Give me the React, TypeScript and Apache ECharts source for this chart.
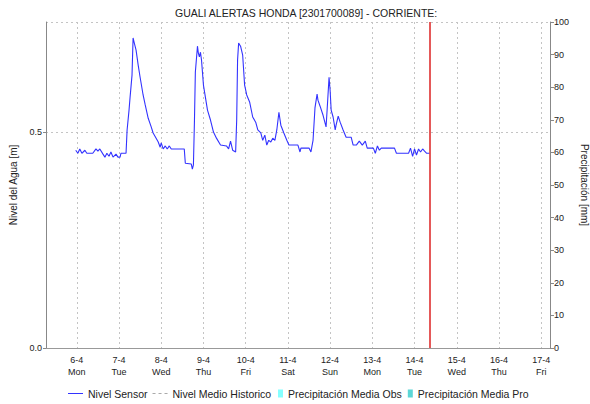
import React, { useEffect, useRef } from "react";
import * as echarts from "echarts";

const TITLE = "GUALI ALERTAS HONDA [2301700089] - CORRIENTE:";
const START = new Date(2026, 3, 6, 0, 0, 0).getTime();
const HOUR = 3600 * 1000;
const DAY_NAMES = ["Sun", "Mon", "Tue", "Wed", "Thu", "Fri", "Sat"];

// hours since 6-4 00:00
const hoursFromStart = [
  -0.6, 0.6, 1.7, 2.9, 4.6, 5.7, 9.1, 10.9, 12, 13.1, 14.9, 16, 17.1, 18.3, 19.4, 20.6, 22.3, 23.4,
  24.6, 25.1, 28, 28.6, 29.7, 30.3, 31.4, 32, 32.6, 33.7, 34.9, 36, 37.7, 38.9, 40.6, 42.3, 43.4,
  45.1, 46.3, 47.4, 48, 49.1, 50.3, 51.4, 52.6, 53.7, 61.1, 61.7, 65.1, 65.7, 66.3, 66.9, 67.4,
  68.6, 69.1, 69.7, 70.3, 70.9, 72, 73.1, 74.3, 76, 77.7, 79.4, 81.7, 85.1, 86.3, 87.4, 88.6, 90.3,
  90.9, 91.4, 92, 93.1, 94.3, 95.4, 96.6, 98.3, 100, 101.7, 102.9, 104.6, 105.7, 106.9, 108, 109.1,
  110.3, 111.4, 112.6, 113.7, 114.9, 116, 117.7, 119.4, 120.6, 125.7, 126.9, 127.4, 132, 133.1,
  134.3, 135.4, 136.6, 137.1, 138.3, 140, 141.7, 142.3, 143.4, 144, 144.6, 145.7, 146.9, 147.4,
  148.6, 149.7, 151.4, 153.1, 156, 157.1, 158.9, 160.6, 162.3, 164, 165.1, 168.6, 169.7, 170.9, 172,
  173.1, 180.6, 181.7, 188.6, 189.7, 190.9, 192, 193.1, 194.3, 195.4, 196.6, 197.7, 198.9, 200.5,
];
const nivelSensor = [
  0.458, 0.451, 0.461, 0.451, 0.458, 0.451, 0.451, 0.461, 0.456, 0.461, 0.449, 0.442, 0.451, 0.444,
  0.454, 0.442, 0.449, 0.442, 0.442, 0.451, 0.451, 0.505, 0.551, 0.581, 0.632, 0.718, 0.708, 0.69,
  0.655, 0.627, 0.586, 0.563, 0.532, 0.512, 0.498, 0.486, 0.477, 0.465, 0.475, 0.461, 0.468, 0.461,
  0.468, 0.461, 0.461, 0.428, 0.426, 0.414, 0.424, 0.528, 0.639, 0.699, 0.683, 0.674, 0.685, 0.667,
  0.609, 0.581, 0.551, 0.528, 0.5, 0.486, 0.47, 0.468, 0.461, 0.479, 0.458, 0.454, 0.528, 0.667,
  0.706, 0.699, 0.678, 0.609, 0.586, 0.569, 0.535, 0.523, 0.505, 0.498, 0.481, 0.493, 0.47, 0.481,
  0.477, 0.486, 0.481, 0.505, 0.546, 0.516, 0.498, 0.481, 0.47, 0.47, 0.454, 0.463, 0.463, 0.454,
  0.481, 0.556, 0.588, 0.574, 0.56, 0.539, 0.512, 0.551, 0.627, 0.597, 0.551, 0.535, 0.505, 0.516,
  0.537, 0.523, 0.505, 0.488, 0.488, 0.47, 0.47, 0.479, 0.47, 0.479, 0.463, 0.463, 0.451, 0.468,
  0.458, 0.463, 0.463, 0.451, 0.451, 0.463, 0.444, 0.461, 0.447, 0.461, 0.454, 0.461, 0.456, 0.451,
  0.451,
];
const nivelMedioHistorico: number[][] = [];
const precipObs: number[][] = [];
const precipPro: number[][] = [];
const leftTicks = [0, 0.5];
const axisStartHour = -17.5;
const axisEndHour = 269;
const nowHour = 200.5;

const FONT = "Liberation Sans, Arial, sans-serif";
const ICON_SOLID = "path://M0,0h15v1h-15z";
const ICON_DASH = "path://M0,0h3v1h-3z M6,0h3v1h-3z M12,0h3v1h-3z";
const ICON_BAR = "path://M0,0h5v8h-5z";

export default function App() {
  const ref = useRef<HTMLDivElement>(null);
  useEffect(() => {
    if (!ref.current) return;
    const chart = echarts.init(ref.current, null, { renderer: "svg" });
    const sensorData = hoursFromStart.map((h, i) => [START + h * HOUR, nivelSensor[i]]);
    const xMin = START + axisStartHour * HOUR;
    const xMax = START + axisEndHour * HOUR;
    const legendText = { fontSize: 10.5, color: "#222", fontFamily: FONT };
    chart.setOption({
      animation: false,
      textStyle: { fontFamily: FONT },
      title: {
        text: TITLE,
        left: 170,
        top: 2,
        textStyle: { fontSize: 10.5, fontWeight: "normal", color: "#222", fontFamily: FONT },
      },
      legend: [
        {
          top: 388,
          left: 68,
          padding: 0,
          itemGap: 5,
          itemWidth: 15,
          itemHeight: 8,
          textStyle: legendText,
          data: [
            { name: "Nivel Sensor", icon: ICON_SOLID },
            { name: "Nivel Medio Historico", icon: ICON_DASH },
          ],
        },
        {
          top: 388,
          left: 278,
          padding: 0,
          itemGap: 6,
          itemWidth: 5,
          itemHeight: 8,
          textStyle: legendText,
          data: [
            { name: "Precipitación Media Obs", icon: ICON_BAR },
            { name: "Precipitación Media Pro", icon: ICON_BAR },
          ],
        },
      ],
      grid: { left: 46, right: 40, top: 22, bottom: 56, outerBoundsMode: "none", containLabel: false },
      xAxis: [
        {
          type: "time",
          min: xMin,
          max: xMax,
          minInterval: 24 * HOUR,
          maxInterval: 24 * HOUR,
          axisLine: { show: true, lineStyle: { color: "#444", type: [1, 1], width: 1 } },
          axisTick: { show: false },
          splitLine: { show: true, lineStyle: { color: "#c4c4c4", type: [2, 3], width: 1 } },
          axisLabel: {
            fontSize: 9,
            color: "#222",
            lineHeight: 12,
            margin: 6,
            hideOverlap: false,
            formatter: (v: number) => {
              const d = new Date(v);
              return `${d.getDate()}-${d.getMonth() + 1}\n${DAY_NAMES[d.getDay()]}`;
            },
          },
        },
        {
          type: "time",
          position: "top",
          min: xMin,
          max: xMax,
          axisLine: { show: true, lineStyle: { color: "#999", width: 1 } },
          axisTick: { show: false },
          axisLabel: { show: false },
          splitLine: { show: false },
        },
      ],
      yAxis: [
        {
          type: "value",
          min: 0,
          max: 0.755,
          interval: 0.5,
          name: "Nivel del Agua [m]",
          nameLocation: "middle",
          nameGap: 21,
          nameTextStyle: { fontSize: 10, color: "#222", fontFamily: FONT },
          axisLine: { show: true, lineStyle: { color: "#888" } },
          axisTick: { show: true, length: 3, lineStyle: { color: "#888" } },
          axisLabel: {
            fontSize: 9,
            color: "#222",
            margin: 4,
            showMaxLabel: false,
            formatter: (v: number) => (leftTicks.includes(v) ? v.toFixed(1) : ""),
          },
          splitLine: { show: true, lineStyle: { color: "#c4c4c4", type: [2, 3] } },
        },
        {
          type: "value",
          min: 0,
          max: 100,
          interval: 10,
          position: "right",
          name: "Precipitación [mm]",
          nameLocation: "middle",
          nameRotate: -90,
          nameGap: 28,
          nameTextStyle: { fontSize: 10, color: "#222", fontFamily: FONT },
          axisLine: { show: true, lineStyle: { color: "#888" } },
          axisTick: { show: true, length: 4, lineStyle: { color: "#888" } },
          axisLabel: { fontSize: 9, color: "#222", margin: 4 },
          splitLine: { show: false },
        },
      ],
      series: [
        {
          name: "Nivel Sensor",
          type: "line",
          data: sensorData,
          showSymbol: false,
          symbol: "none",
          color: "#3333ff",
          lineStyle: { color: "#3333ff", width: 1.1 },
          markLine: {
            silent: true,
            symbol: ["none", "none"],
            label: { show: false },
            lineStyle: { color: "#dd2222", width: 1.5, type: "solid" },
            data: [{ xAxis: START + nowHour * HOUR }],
          },
        },
        {
          name: "Nivel Medio Historico",
          type: "line",
          data: nivelMedioHistorico,
          symbol: "none",
          color: "#aaaaaa",
          lineStyle: { color: "#aaaaaa", width: 1, type: "dashed" },
        },
        {
          name: "Precipitación Media Obs",
          type: "scatter",
          yAxisIndex: 1,
          data: precipObs,
          color: "#66ffff",
        },
        {
          name: "Precipitación Media Pro",
          type: "scatter",
          yAxisIndex: 1,
          data: precipPro,
          color: "#33cccc",
        },
      ],
    });
    return () => chart.dispose();
  }, []);
  return (
    <div
      ref={ref}
      style={{ position: "absolute", left: 0, top: 0, width: 590, height: 404 }}
    />
  );
}
